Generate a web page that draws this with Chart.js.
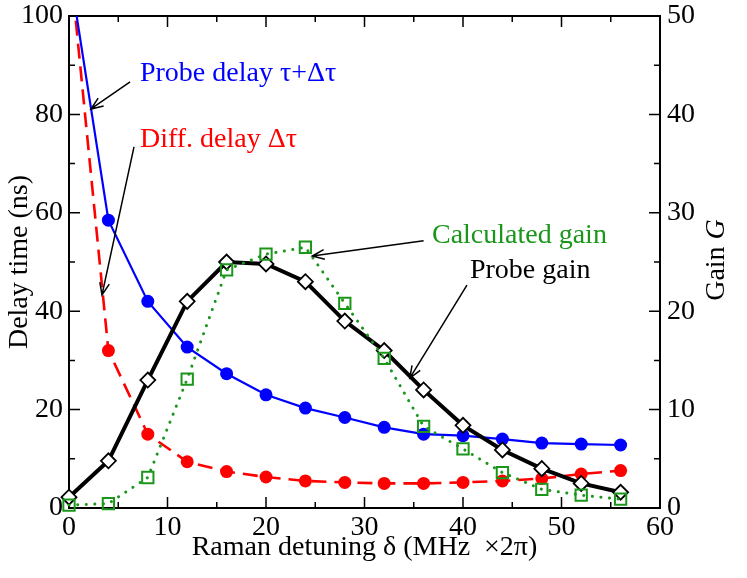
<!DOCTYPE html>
<html>
<head>
<meta charset="utf-8">
<script src="https://cdn.jsdelivr.net/npm/chart.js@4.4.1/dist/chart.umd.min.js"></script>
<style>
  html, body { margin: 0; padding: 0; background: #fff; }
  #wrap { width: 747px; height: 578px; position: relative; }
</style>
</head>
<body>
<div id="wrap"><canvas id="ramanChart"></canvas></div>
<script>
/* === DATA === */
const detuning   = [0, 4, 8, 12, 16, 20, 24, 28, 32, 36, 40, 44, 48, 52, 56];
// delays in ns (first value is off the top of the plot, no marker)
const probeDelay = [110, 58.5, 42, 32.7, 27.3, 23, 20.3, 18.4, 16.4, 15, 14.7, 14, 13.2, 13, 12.8];
const diffDelay  = [113, 32, 15, 9.4, 7.4, 6.3, 5.5, 5.2, 5.0, 5.0, 5.2, 5.5, 6.0, 6.9, 7.6];
// gains (right axis)
const probeGain  = [1.1, 4.8, 13, 21, 25, 24.8, 23, 19, 16, 12, 8.4, 5.9, 4, 2.5, 1.6];
const calcGain   = [0.3, 0.45, 3.1, 13.1, 24.2, 25.8, 26.5, 20.8, 15.2, 8.3, 6, 3.6, 1.9, 1.3, 0.9];

const xTicks  = [0, 10, 20, 30, 40, 50, 60];
const yTicks  = [0, 20, 40, 60, 80, 100];
const y2Ticks = [0, 10, 20, 30, 40, 50];

const FONT = "'Liberation Serif', 'DejaVu Serif', serif";
const GREEN = '#1a961a';

function pts(ys){ return detuning.map((x, i) => ({x: x, y: ys[i]})); }

/* === FRAME + INWARD TICKS === */
const framePlugin = {
  id: 'frame',
  beforeDatasetsDraw(chart){
    const {ctx, chartArea: a, scales: {x, y, y2}} = chart;
    ctx.save();
    ctx.strokeStyle = '#000';
    ctx.lineWidth = 2;
    ctx.strokeRect(a.left, a.top, a.right - a.left, a.bottom - a.top);
    ctx.lineWidth = 1.5;
    ctx.beginPath();
    for (let v = 0; v <= 60; v += 5){
      const px = x.getPixelForValue(v);
      const len = v % 10 === 0 ? 11 : 6;
      ctx.moveTo(px, a.bottom); ctx.lineTo(px, a.bottom - len);
      ctx.moveTo(px, a.top);    ctx.lineTo(px, a.top + len);
    }
    for (let v = 0; v <= 100; v += 10){
      const py = y.getPixelForValue(v);
      const len = v % 20 === 0 ? 11 : 6;
      ctx.moveTo(a.left, py); ctx.lineTo(a.left + len, py);
    }
    for (let v = 0; v <= 50; v += 5){
      const py = y2.getPixelForValue(v);
      const len = v % 10 === 0 ? 11 : 6;
      ctx.moveTo(a.right, py); ctx.lineTo(a.right - len, py);
    }
    ctx.stroke();
    ctx.restore();
  }
};

/* === ANNOTATIONS (data coords on x / left y) === */
const labels = [
  {text: 'Probe delay \u03c4+\u0394\u03c4', x: 7.2, y: 86.8, color: '#0000ff'},
  {text: 'Diff. delay \u0394\u03c4',        x: 7.2, y: 73.4, color: '#ff0000'},
  {text: 'Calculated gain',                 x: 36.85, y: 53.9, color: GREEN},
  {text: 'Probe gain',                      x: 40.7, y: 46.7, color: '#000'}
];
const arrows = [
  {from: [6.2, 86.6],  to: [2.23, 81.1]},
  {from: [6.6, 73.4],  to: [3.35, 43.3]},
  {from: [36.0, 54.3], to: [24.7, 51.2]},
  {from: [40.4, 45.3], to: [34.6, 26.4]}
];

function drawArrow(ctx, x1, y1, x2, y2){
  const ang = Math.atan2(y2 - y1, x2 - x1);
  const L = 13, w = 0.38;
  ctx.beginPath();
  ctx.moveTo(x1, y1); ctx.lineTo(x2, y2);
  ctx.moveTo(x2 - L * Math.cos(ang - w), y2 - L * Math.sin(ang - w));
  ctx.lineTo(x2, y2);
  ctx.lineTo(x2 - L * Math.cos(ang + w), y2 - L * Math.sin(ang + w));
  ctx.stroke();
}

const notesPlugin = {
  id: 'notes',
  afterDraw(chart){
    const {ctx, chartArea: a, scales: {x, y}} = chart;
    ctx.save();
    ctx.font = '28px ' + FONT;
    ctx.textBaseline = 'alphabetic';
    ctx.textAlign = 'left';
    labels.forEach(l => {
      ctx.fillStyle = l.color;
      ctx.fillText(l.text, x.getPixelForValue(l.x), y.getPixelForValue(l.y));
    });
    ctx.strokeStyle = '#000';
    ctx.lineWidth = 1.5;
    arrows.forEach(ar => {
      drawArrow(ctx,
        x.getPixelForValue(ar.from[0]), y.getPixelForValue(ar.from[1]),
        x.getPixelForValue(ar.to[0]),   y.getPixelForValue(ar.to[1]));
    });

    // right axis title: "Gain G" with italic G
    ctx.translate(717, 260);
    ctx.rotate(-Math.PI / 2);
    ctx.fillStyle = '#000';
    ctx.textBaseline = 'middle';
    const f1 = '28px ' + FONT, f2 = 'italic 28px ' + FONT;
    ctx.font = f1; const w1 = ctx.measureText('Gain ').width;
    ctx.font = f2; const w2 = ctx.measureText('G').width;
    const x0 = -(w1 + w2) / 2;
    ctx.font = f1; ctx.fillText('Gain ', x0, 0);
    ctx.font = f2; ctx.fillText('G', x0 + w1, 0);
    ctx.restore();
  }
};

/* === CHART === */
const ctx = document.getElementById('ramanChart').getContext('2d');
const tickFont = {family: FONT, size: 28};

// fixed box sizes, no extra label padding so the plot area stays put
function fixV(w){ return s => { s.width = w; s.paddingTop = 0; s.paddingBottom = 0; }; }

const chart = new Chart(ctx, {
  type: 'line',
  data: {
    datasets: [
      {
        label: 'Probe delay',
        data: pts(probeDelay),
        yAxisID: 'y',
        borderColor: '#0000ff',
        borderWidth: 2.2,
        pointRadius: c => c.dataIndex === 0 ? 0 : 6.5,
        pointBackgroundColor: '#0000ff',
        pointBorderWidth: 0,
        tension: 0,
        order: 3,
        clip: {left: 12, top: 0, right: 12, bottom: 12}
      },
      {
        label: 'Diff. delay',
        data: pts(diffDelay),
        yAxisID: 'y',
        borderColor: '#ff0000',
        borderWidth: 2.6,
        borderDash: [15, 8],
        pointRadius: c => c.dataIndex === 0 ? 0 : 6.5,
        pointBackgroundColor: '#ff0000',
        pointBorderWidth: 0,
        tension: 0,
        order: 4,
        clip: {left: 12, top: 0, right: 12, bottom: 12}
      },
      {
        label: 'Probe gain',
        data: pts(probeGain),
        yAxisID: 'y2',
        borderColor: '#000',
        borderWidth: 4,
        pointStyle: 'rectRot',
        pointRadius: 7.5,
        pointBackgroundColor: '#fff',
        pointBorderColor: '#000',
        pointBorderWidth: 1.8,
        tension: 0,
        order: 2,
        clip: false
      },
      {
        label: 'Calculated gain',
        data: pts(calcGain),
        yAxisID: 'y2',
        borderColor: GREEN,
        borderWidth: 3,
        borderDash: [0.1, 8.5],
        borderCapStyle: 'round',
        pointStyle: 'rect',
        pointRadius: 8,
        pointBackgroundColor: 'rgba(0,0,0,0)',
        pointBorderColor: GREEN,
        pointBorderWidth: 2,
        tension: 0,
        order: 1,
        clip: false
      }
    ]
  },
  options: {
    responsive: true,
    maintainAspectRatio: false,
    animation: false,
    layout: { padding: {top: 16, left: 0, right: 0, bottom: 0} },
    plugins: { legend: {display: false}, tooltip: {enabled: false} },
    scales: {
      x: {
        type: 'linear', min: 0, max: 60,
        afterBuildTicks: s => { s.ticks = xTicks.map(v => ({value: v})); },
        afterFit: s => { s.height = 70; s.paddingLeft = 0; s.paddingRight = 0; },
        grid: {display: false, drawTicks: false},
        border: {display: false},
        ticks: {color: '#000', font: tickFont, padding: 3, autoSkip: false, maxRotation: 0},
        title: {display: true, text: 'Raman detuning \u03b4 (MHz \u00a0\u00d72\u03c0)', color: '#000',
                font: {family: FONT, size: 28}, padding: {top: 0, bottom: 14}}
      },
      y: {
        position: 'left', min: 0, max: 100,
        afterBuildTicks: s => { s.ticks = yTicks.map(v => ({value: v})); },
        afterFit: fixV(69),
        grid: {display: false, drawTicks: false},
        border: {display: false},
        ticks: {color: '#000', font: tickFont, padding: 6},
        title: {display: true, text: 'Delay time (ns)', color: '#000',
                font: {family: FONT, size: 28}, padding: {top: 3, bottom: 0}}
      },
      y2: {
        position: 'right', min: 0, max: 50,
        afterBuildTicks: s => { s.ticks = y2Ticks.map(v => ({value: v})); },
        afterFit: fixV(87),
        grid: {display: false, drawTicks: false},
        border: {display: false},
        ticks: {color: '#000', font: tickFont, padding: 7}
      }
    }
  },
  plugins: [framePlugin, notesPlugin]
});
</script>
</body>
</html>
